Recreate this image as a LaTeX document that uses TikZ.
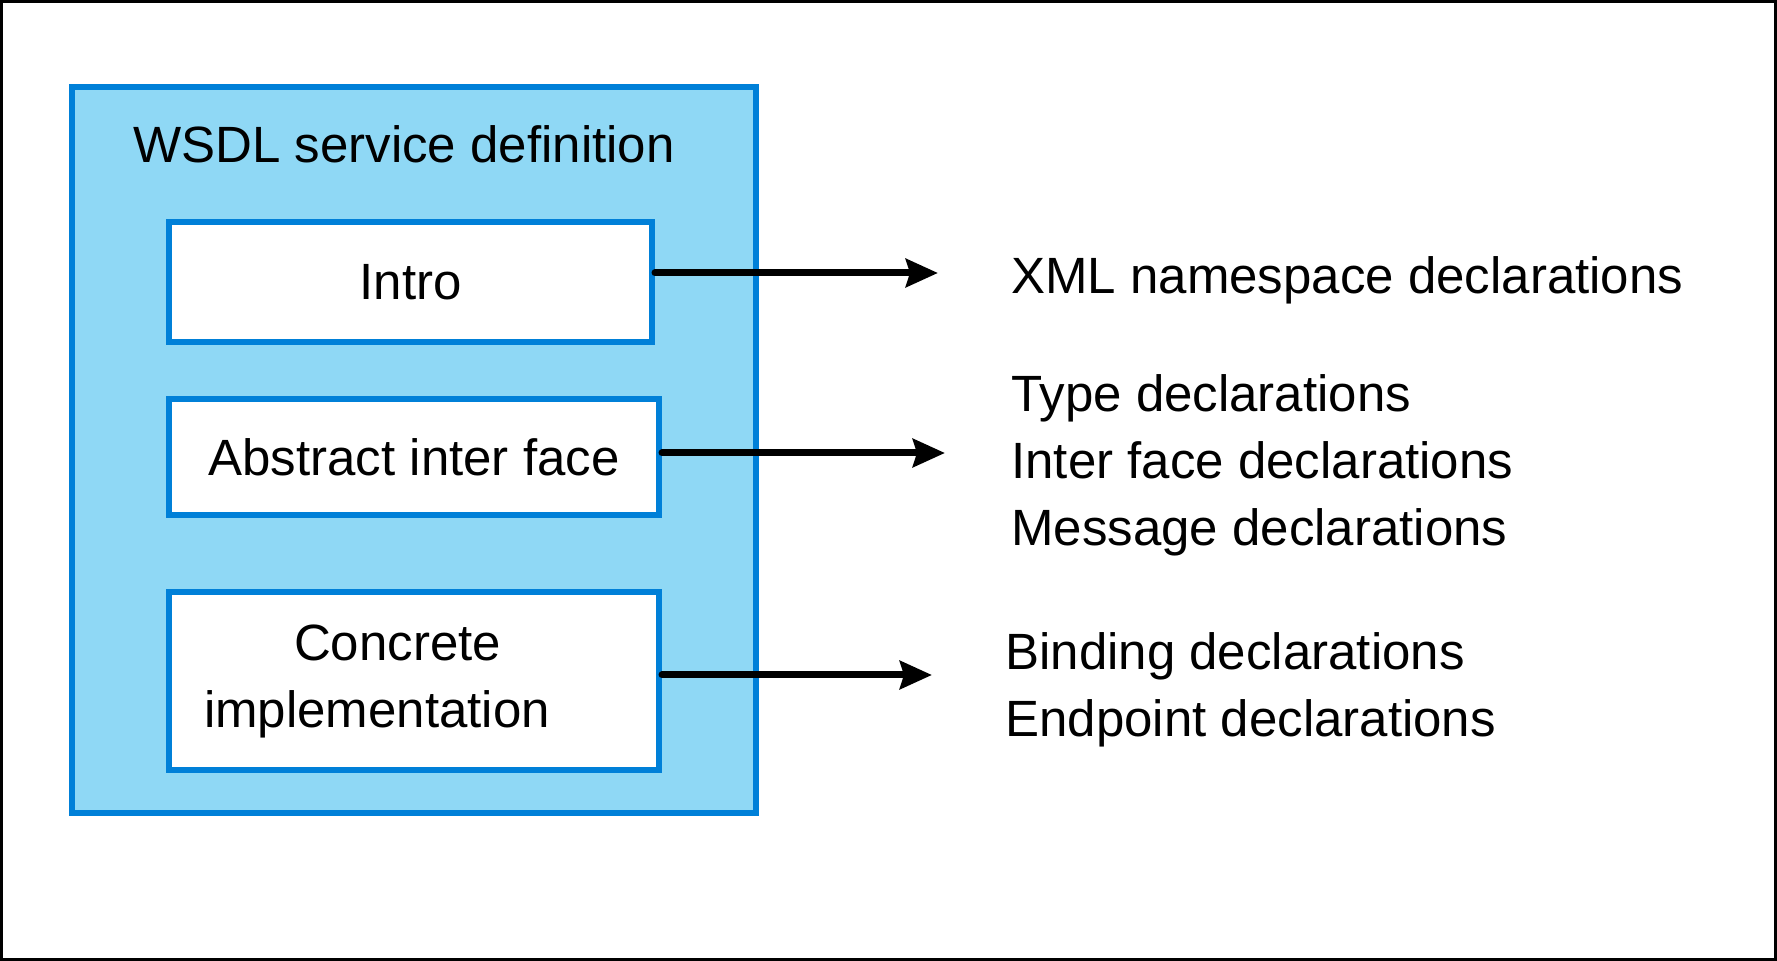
\documentclass[tikz,border=0pt]{standalone}
\usepackage{fontspec}
\setmainfont{Liberation Sans}
\usetikzlibrary{arrows.meta}
\definecolor{wsdlfill}{HTML}{8FD8F5}
\definecolor{wsdledge}{HTML}{0080D8}

\begin{document}
\begin{tikzpicture}[x=0.5pt,y=-0.5pt,
	every node/.style={font=\fontsize{25.5}{33.5}\selectfont},
	part/.style={draw=wsdledge,line width=3pt,fill=white,align=center,inner sep=0pt},
	decl/.style={anchor=base west,inner sep=0pt},
	flow/.style={line width=3.5pt,line cap=round,-{Stealth[length=16pt,width=14pt,inset=2pt]}}]

\useasboundingbox (0,0) rectangle (1777,961);
\draw[line width=1.5pt] (1.5,1.5) rectangle (1775.5,959.5);

\node[draw=wsdledge,fill=wsdlfill,line width=3pt,minimum width=342pt,minimum height=363pt,inner sep=0pt] (service) at (414,450) {};
\node[anchor=base,inner sep=0pt] (title) at (404,163) {WSDL service definition};

\node[part,minimum width=241.5pt,minimum height=60pt] (intro) at (410.5,282) {Intro};
\node[part,minimum width=245pt,minimum height=58pt] (abstract) at (414,457) {Abstract inter face};
\node[part,minimum width=245pt,minimum height=89pt,text width=210pt,align=left] (concrete) at (414,681) {\hspace*{45pt}Concrete\\implementation};

\coordinate (introTip) at (938,273);
\coordinate (abstractTip) at (945,453);
\coordinate (concreteTip) at (932,675);

\draw[flow] (intro.east |- introTip) -- (introTip);
\draw[flow] (abstract.east |- abstractTip) -- (abstractTip);
\draw[flow] (concrete.east |- concreteTip) -- (concreteTip);

\node[decl] (xmlDecl) at (1011,294) {XML namespace declarations};
\node[decl] (typeDecl) at (1011,412) {Type declarations};
\node[decl] (interfaceDecl) at (1011,479) {Inter face declarations};
\node[decl] (messageDecl) at (1011,546) {Message declarations};
\node[decl] (bindingDecl) at (1005,670) {Binding declarations};
\node[decl] (endpointDecl) at (1005,737) {Endpoint declarations};
\end{tikzpicture}
\end{document}
